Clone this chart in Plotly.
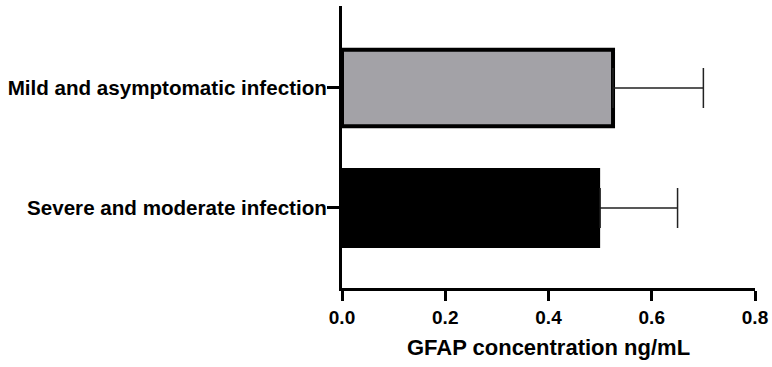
import plotly.graph_objects as go

categories = ["Severe and moderate infection", "Mild and asymptomatic infection"]
values = [0.50, 0.525]
errors_plus = [0.15, 0.175]
bar_colors = ["#000000", "#a3a2a7"]
bar_widths = [0.667, 0.637]
x_ticks = [0.0, 0.2, 0.4, 0.6, 0.8]
x_tick_labels = ["0.0", "0.2", "0.4", "0.6", "0.8"]

fig = go.Figure()
fig.add_trace(go.Bar(
    y=categories,
    x=values,
    orientation="h",
    width=bar_widths,
    marker=dict(color=bar_colors, line=dict(color="#000000", width=[0, 4])),
    error_x=dict(type="data", symmetric=False, array=errors_plus,
                 arrayminus=[0, 0], color="#222222", thickness=1.5, width=20),
))

font_family = "Liberation Sans, Arial, sans-serif"
fig.update_layout(
    width=772, height=367,
    margin=dict(l=342, r=17, t=6, b=79),
    paper_bgcolor="white", plot_bgcolor="white",
    showlegend=False,
    font=dict(family=font_family, color="black", size=19),
    xaxis=dict(
        range=[0, 0.8], tickvals=x_ticks, ticktext=x_tick_labels,
        showline=True, linecolor="black", linewidth=3,
        ticks="outside", ticklen=10, tickwidth=3, tickcolor="black",
        showgrid=False, zeroline=False, automargin=False,
        tickfont=dict(family=font_family, size=19, color="black", weight="bold"),
        title=dict(text="<b>GFAP concentration ng/mL</b>",
                   font=dict(family=font_family, size=22, color="black"), standoff=13),
    ),
    yaxis=dict(
        range=[-0.667, 1.683], type="category",
        showline=True, linecolor="black", linewidth=3,
        ticks="outside", ticklen=12, tickwidth=3, tickcolor="black",
        showgrid=False, zeroline=False, automargin=False,
        ticklabelstandoff=-4,
        tickfont=dict(family=font_family, size=20.6, color="black", weight="bold"),
    ),
)

fig.write_html("out.html")
